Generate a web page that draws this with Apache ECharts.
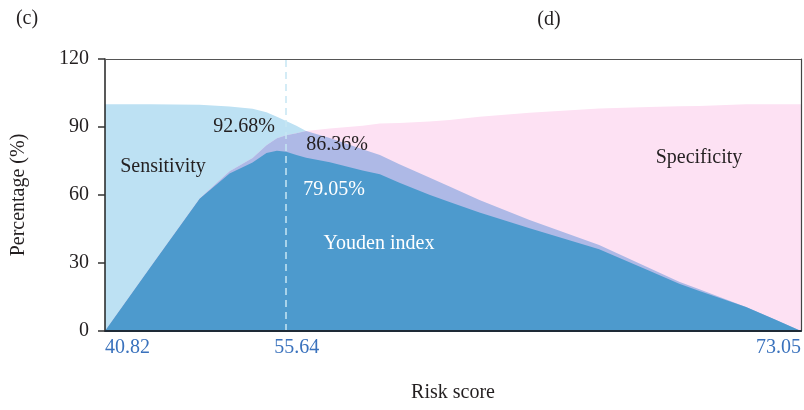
<!DOCTYPE html>
<html>
<head>
<meta charset="utf-8">
<script src="https://cdn.jsdelivr.net/npm/echarts@6/dist/echarts.min.js"></script>
<style>
  html, body { margin: 0; padding: 0; background: #fff; }
  #chart { width: 804px; height: 410px; }
</style>
</head>
<body>
<div id="chart"></div>
<script>
// position along the ranked risk scores (0 = lowest, 100 = highest)
const riskPos = [0, 6.5, 13.6, 17.9, 21.2, 23.2, 24.7, 26.03, 27.5, 28.9, 32.3, 37.0, 39.5, 42.3, 46.6, 49.5, 53.8, 61.0, 71.0, 78.2, 82.5, 85.4, 92.1, 96.1, 100]
const sensitivity = [100, 100, 99.8, 99.0, 98.0, 96.5, 94.5, 92.68, 90.5, 88.2, 85.1, 80.2, 77.6, 73.6, 67.7, 63.8, 57.8, 49.0, 37.9, 27.8, 21.7, 18.4, 10.6, 5.3, 0]
const specificity = [0, 28, 58.5, 70.5, 76.3, 82.0, 85.0, 86.36, 87.2, 88.2, 89.3, 90.6, 91.5, 91.8, 92.4, 93.1, 94.5, 96.3, 98.2, 98.8, 99.2, 99.3, 100, 100, 100]

const xTickPos = [0, 26.03, 100]
const xTickLabels = ['40.82', '55.64', '73.05']
const cutoffPos = 26.03

const serif = '"Liberation Serif", "DejaVu Serif", serif'
const ink = '#231f20'

// build series data
const sensData = riskPos.map((x, i) => [x, sensitivity[i]])
const specData = riskPos.map((x, i) => [x, specificity[i]])
const overlapData = riskPos.map((x, i) => [x, Math.min(sensitivity[i], specificity[i])])
const youdenData = riskPos.map((x, i) => [x, sensitivity[i] + specificity[i] - 100])

function area(name, data, colour) {
  return {
    name: name,
    type: 'line',
    data: data,
    showSymbol: false,
    silent: true,
    lineStyle: {width: 0},
    areaStyle: {color: colour, opacity: 1}
  }
}

const youden = area('Youden index', youdenData, '#4d9acd')
youden.markLine = {
  silent: true,
  symbol: 'none',
  label: {show: false},
  lineStyle: {color: '#c6e6f3', type: [7, 5], width: 1.5},
  data: [{xAxis: cutoffPos}]
}

function txt(text, x, y, colour) {
  return {
    type: 'text', x: x, y: y, z: 100,
    style: {text: text, fill: colour || ink, font: '20px ' + serif, align: 'center', verticalAlign: 'middle'}
  }
}

const myChart = echarts.init(document.getElementById('chart'))

myChart.setOption({
  animation: false,
  textStyle: {fontFamily: serif},
  grid: {left: 105, right: 2, top: 59, bottom: 79},
  xAxis: [{
    type: 'value',
    min: 0,
    max: 100,
    z: 10,
    name: 'Risk score',
    nameLocation: 'middle',
    nameGap: 52,
    nameTextStyle: {color: ink, fontSize: 20, fontFamily: serif},
    axisLine: {onZero: false, lineStyle: {color: '#1e2a36', width: 2}},
    axisTick: {show: false},
    splitLine: {show: false},
    axisLabel: {
      customValues: xTickPos,
      color: '#3a72bd',
      fontSize: 20,
      fontFamily: serif,
      margin: 7,
      alignMinLabel: 'left',
      alignMaxLabel: 'right',
      formatter: function (v) {
        const i = xTickPos.indexOf(v)
        const s = i < 0 ? '' : xTickLabels[i]
        return i === 1 ? '{mid|' + s + '}' : s
      },
      rich: {mid: {color: '#3a72bd', fontSize: 20, fontFamily: serif, padding: [0, 0, 0, 21]}}
    }
  }, {
    type: 'value', position: 'top', min: 0, max: 100, z: 10,
    axisLine: {show: true, onZero: false, lineStyle: {color: '#555', width: 1.2}},
    axisTick: {show: false}, axisLabel: {show: false}, splitLine: {show: false}
  }],
  yAxis: [{
    type: 'value',
    min: 0,
    max: 120,
    interval: 30,
    z: 10,
    name: 'Percentage (%)',
    nameLocation: 'middle',
    nameGap: 76,
    nameTextStyle: {color: ink, fontSize: 20, fontFamily: serif},
    axisLine: {show: true, onZero: false, lineStyle: {color: '#222', width: 1.5}},
    axisTick: {show: true, length: 7, lineStyle: {color: '#333', width: 1.5}},
    splitLine: {show: false},
    axisLabel: {color: ink, fontSize: 20, fontFamily: serif, margin: 16}
  }, {
    type: 'value', position: 'right', min: 0, max: 120, z: 10,
    axisLine: {show: true, onZero: false, lineStyle: {color: '#444', width: 1.2}},
    axisTick: {show: false}, axisLabel: {show: false}, splitLine: {show: false}
  }],
  series: [
    area('Sensitivity', sensData, '#bde1f3'),
    area('Specificity', specData, '#fde1f3'),
    area('Overlap', overlapData, '#aeb9e6'),
    youden
  ],
  graphic: [
    txt('(c)', 27, 19),
    txt('(d)', 549, 20),
    txt('Sensitivity', 163, 167),
    txt('92.68%', 244, 127),
    txt('86.36%', 337, 145),
    txt('79.05%', 334, 190, '#ffffff'),
    txt('Youden index', 379, 244, '#ffffff'),
    txt('Specificity', 699, 158)
  ]
})
</script>
</body>
</html>
